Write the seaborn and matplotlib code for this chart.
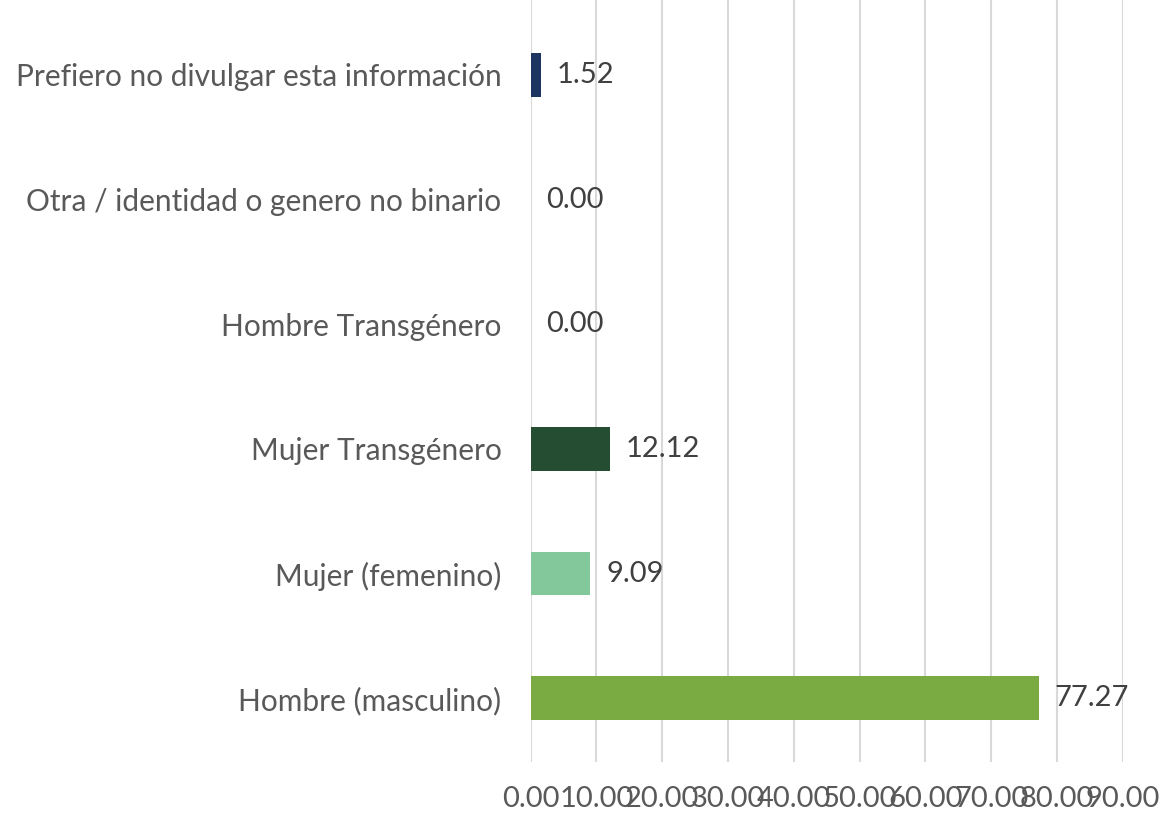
"""Horizontal bar chart: distribution by gender identity."""

import matplotlib
matplotlib.use("Agg")
import matplotlib.pyplot as plt
import seaborn as sns
import pandas as pd

categories = [
    "Prefiero no divulgar esta información",
    "Otra / identidad o genero no binario",
    "Hombre Transgénero",
    "Mujer Transgénero",
    "Mujer (femenino)",
    "Hombre (masculino)",
]
values = [1.52, 0.00, 0.00, 12.12, 9.09, 77.27]
bar_colors = ["#1C3461", "#9E9E9E", "#9E9E9E", "#254D31", "#82C89A", "#7AAB43"]
x_ticks = [0, 10, 20, 30, 40, 50, 60, 70, 80, 90]

sns.set_theme(style="white")
plt.rcParams["font.family"] = ["Lato", "DejaVu Sans"]

df = pd.DataFrame({"categoria": categories, "valor": values})

fig = plt.figure(figsize=(11.61, 8.14), dpi=100)
ax = fig.add_axes([0.457, 0.064, 0.510, 0.936])

sns.barplot(data=df, x="valor", y="categoria", hue="categoria",
            palette=bar_colors, width=0.35, legend=False, ax=ax,
            saturation=1, linewidth=0)

ax.set_xlim(0, 90)
ax.set_ylim(5.51, -0.6)
ax.set_xticks(x_ticks)
ax.set_xticklabels([f"{t:.2f}" for t in x_ticks], fontsize=21, color="#595959")
ax.tick_params(axis="x", length=0, pad=17)
ax.tick_params(axis="y", length=0, pad=21, labelsize=21.5, labelcolor="#595959")
ax.set_xlabel("")
ax.set_ylabel("")
ax.grid(axis="x", color="#D9D9D9", linewidth=1.5)
ax.set_axisbelow(True)
for side in ["top", "right", "bottom", "left"]:
    ax.spines[side].set_visible(False)

for i, v in enumerate(values):
    ax.text(v + 2.4, i, f"{v:.2f}", va="center", ha="left",
            fontsize=21, color="#404040")

fig.savefig("out.png", dpi=100)
plt.close(fig)
